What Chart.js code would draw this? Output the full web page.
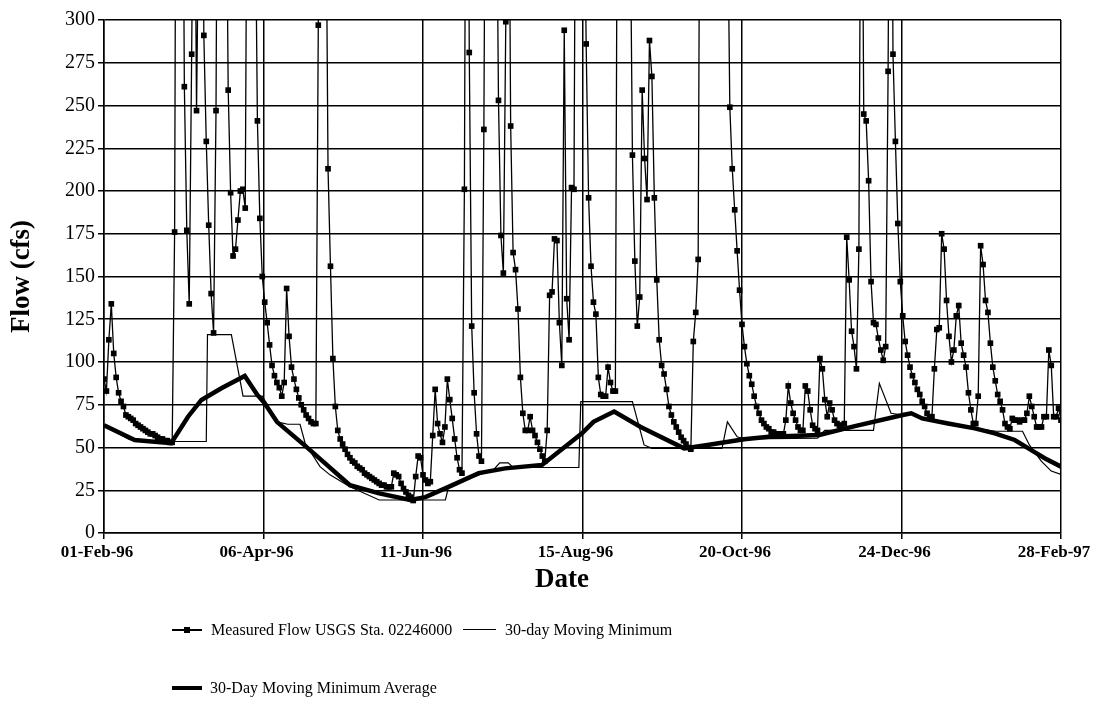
<!DOCTYPE html>
<html>
<head>
<meta charset="utf-8">
<script src="https://cdn.jsdelivr.net/npm/chart.js@4.4.1/dist/chart.umd.min.js"></script>
<style>
  body { margin: 0; background: #fff; }
  #wrap { position: relative; width: 1109px; height: 709px; }
  canvas { position: absolute; left: 0; top: 0; }
  .key { position: absolute; font-family: 'Liberation Serif', 'Times New Roman', serif; font-size: 16px; color: #000; line-height: 20px; white-space: nowrap; }
  .swatch { position: absolute; background: #000; }
  #xTitle { position: absolute; left: 512px; top: 563px; width: 100px; text-align: center; font-family: 'Liberation Serif', 'Times New Roman', serif; font-size: 27px; font-weight: bold; line-height: 30px; }
</style>
</head>
<body>
<div id="wrap">
  <canvas id="flowChart" width="1109" height="709"></canvas>
  <div id="xTitle">Date</div>

  <div class="swatch" style="left:172px; top:629px; width:30px; height:1.5px;"></div>
  <div class="swatch" style="left:184px; top:627px; width:6px; height:6px;"></div>
  <div class="key" style="left:211px; top:620px;">Measured Flow USGS Sta. 02246000</div>

  <div class="swatch" style="left:463px; top:629px; width:33px; height:1px;"></div>
  <div class="key" style="left:505px; top:620px;">30-day Moving Minimum</div>

  <div class="swatch" style="left:172px; top:686px; width:30px; height:4px;"></div>
  <div class="key" style="left:210px; top:678px;">30-Day Moving Minimum Average</div>
</div>
<script>
// days counted from 01-Feb-96; the axis ends on 28-Feb-97 (day 393)
const dateLabels = ['01-Feb-96', '06-Apr-96', '11-Jun-96', '15-Aug-96', '20-Oct-96', '24-Dec-96', '28-Feb-97'];
const tickDays = [0, 65.5, 131, 196.5, 262, 327.5, 393];

// daily measured flow (cfs), one value per day; storm peaks run above the 300 cfs axis
const measuredFlow = [
  90, 83, 113, 134, 105, 91, 82, 77, 74, 69,
  68, 67, 66, 64, 63, 62, 61, 60, 59, 58,
  58, 57, 56, 55, 55, 54, 54, 53, 53, 176,
  640, 820, 510, 261, 177, 134, 280, 450, 247, 380,
  520, 291, 229, 180, 140, 117, 247, 560, 900, 700,
  430, 259, 199, 162, 166, 183, 200, 201, 190, 480,
  760, 620, 390, 241, 184, 150, 135, 123, 110, 98,
  92, 88, 85, 80, 88, 143, 115, 97, 90, 84,
  79, 75, 72, 69, 67, 65, 64, 64, 297, 520,
  680, 410, 213, 156, 102, 74, 60, 55, 52, 49,
  46, 44, 42, 41, 39, 38, 37, 35, 34, 33,
  32, 31, 30, 29, 28, 28, 27, 27, 27, 35,
  34, 33, 29, 26, 24, 22, 21, 19, 33, 45,
  44, 34, 31, 29, 30, 57, 84, 64, 58, 53,
  62, 90, 78, 67, 55, 44, 37, 35, 201, 590,
  281, 121, 82, 58, 45, 42, 236, 540, 860, 720,
  600, 420, 253, 174, 152, 299, 470, 238, 164, 154,
  131, 91, 70, 60, 60, 68, 60, 57, 53, 49,
  45, 42, 60, 139, 141, 172, 171, 123, 98, 294,
  137, 113, 202, 201, 520, 780, 640, 410, 286, 196,
  156, 135, 128, 91, 81, 80, 80, 97, 88, 83,
  83, 480, 760, 950, 820, 600, 380, 221, 159, 121,
  138, 259, 219, 195, 288, 267, 196, 148, 113, 98,
  93, 84, 74, 69, 65, 62, 59, 56, 54, 52,
  50, 49, 112, 129, 160, 520, 780, 980, 900, 760,
  640, 700, 860, 900, 700, 520, 380, 249, 213, 189,
  165, 142, 122, 109, 99, 92, 87, 80, 74, 70,
  66, 64, 62, 61, 59, 59, 58, 58, 58, 58,
  66, 86, 76, 70, 66, 62, 60, 60, 86, 83,
  72, 63, 61, 60, 102, 96, 78, 68, 76, 72,
  66, 64, 63, 63, 64, 173, 148, 118, 109, 96,
  166, 480, 245, 241, 206, 147, 123, 122, 114, 107,
  101, 109, 270, 560, 280, 229, 181, 147, 127, 112,
  104, 97, 92, 88, 84, 81, 77, 74, 70, 68,
  68, 96, 119, 120, 175, 166, 136, 115, 100, 107,
  127, 133, 111, 104, 97, 82, 72, 64, 64, 80,
  168, 157, 136, 129, 111, 97, 89, 81, 77, 72,
  64, 62, 61, 67, 66, 66, 65, 66, 66, 70,
  80, 74, 68, 62, 62, 62, 68, 68, 107, 98,
  68, 68, 73, 66
];

// 30-day moving minimum, [day, cfs] at each change of slope
const movingMin = [
  [0, 63], [10, 55], [13, 53.5], [42, 53.5], [42.5, 116], [52.3, 116], [57.1, 80], [65, 80],
  [71, 65], [75.5, 63.6], [80.5, 63.6], [82.6, 52.5], [88.7, 38.8], [92.8, 34], [101, 27],
  [113, 19.3], [140.2, 19.3], [141.5, 27], [152, 33], [160, 37], [162.5, 41], [166, 41],
  [168, 38.3], [195, 38.3], [195.8, 76.8], [217, 76.8], [221.8, 51.5], [225, 49.5],
  [253.8, 49.5], [256, 65], [260, 56.3], [263, 55], [293, 55.5], [296, 60], [316, 60],
  [318.4, 87.5], [323.2, 70], [328, 69], [331.5, 70], [336, 67], [346.6, 64], [357.6, 61.2],
  [366.3, 59.5], [377.2, 59.5], [380, 51.5], [384.9, 42], [389, 36.2], [393, 34.3]
];

// average of the 30-day moving minimum
const movingMinAvg = [
  [0, 63], [12.6, 54.4], [27.6, 52.5], [34.5, 68], [40, 77.8], [48.2, 84.6], [57.8, 91.8],
  [63, 80.7], [66, 75.8], [71, 65], [83, 50.5], [101, 28], [113, 23.2], [125.7, 19.3],
  [132, 21], [141.5, 27], [153.9, 35], [164.8, 37.8], [179.9, 39.8], [196.3, 58.3],
  [201, 65], [209.5, 71], [220.4, 62], [238.2, 49.5], [247.8, 51.5], [262.8, 54.8],
  [273, 56.3], [293.8, 57.3], [307.5, 62.2], [328, 69], [331.5, 70], [336, 67],
  [346.6, 64], [357.6, 61.2], [365.8, 58.3], [374, 54.4], [380.8, 48.5], [386.3, 43.7],
  [393, 38.8]
];

const serif = "'Liberation Serif', 'Times New Roman', serif";
const toPoints = rows => rows.map(r => ({ x: r[0], y: r[1] }));

const ctx = document.getElementById('flowChart').getContext('2d');
const flowChart = new Chart(ctx, {
    type: 'line',
    data: {
        datasets: [
            {
                label: 'Measured Flow USGS Sta. 02246000',
                data: measuredFlow.map((v, i) => ({ x: i, y: v })),
                borderColor: '#000',
                borderWidth: 1.3,
                pointStyle: 'rect',
                pointRadius: 4,
                pointBackgroundColor: '#000',
                pointBorderWidth: 0
            },
            {
                label: '30-day Moving Minimum',
                data: toPoints(movingMin),
                borderColor: '#000',
                borderWidth: 1.2,
                pointRadius: 0
            },
            {
                label: '30-Day Moving Minimum Average',
                data: toPoints(movingMinAvg),
                borderColor: '#000',
                borderWidth: 4.5,
                pointRadius: 0
            }
        ]
    },
    options: {
        responsive: false,
        animation: false,
        layout: { padding: { top: 20, right: 48, bottom: 146, left: 0 } },
        plugins: {
            legend: { display: false },
            tooltip: { enabled: false }
        },
        scales: {
            x: {
                type: 'linear',
                min: 0,
                max: 393,
                afterBuildTicks: scale => { scale.ticks = tickDays.map(v => ({ value: v })); },
                afterFit: scale => { scale.height = 30; },
                ticks: {
                    autoSkip: false,
                    maxRotation: 0,
                    color: '#000',
                    font: { family: serif, size: 17, weight: 'bold' },
                    labelOffset: -7,
                    callback: (v, i) => dateLabels[i]
                },
                grid: { color: '#000', lineWidth: 1.5, tickLength: 6 },
                border: { color: '#000', width: 1.5 }
            },
            y: {
                min: 0,
                max: 300,
                afterFit: scale => { scale.width = 104; },
                ticks: {
                    stepSize: 25,
                    color: '#000',
                    font: { family: serif, size: 20 }
                },
                grid: { color: '#000', lineWidth: 1.5, tickLength: 6 },
                border: { color: '#000', width: 1.5 },
                title: {
                    display: true,
                    text: 'Flow (cfs)',
                    color: '#000',
                    font: { family: serif, size: 27, weight: 'bold' },
                    padding: { top: 6, bottom: 4 }
                }
            }
        }
    }
});
</script>
</body>
</html>
